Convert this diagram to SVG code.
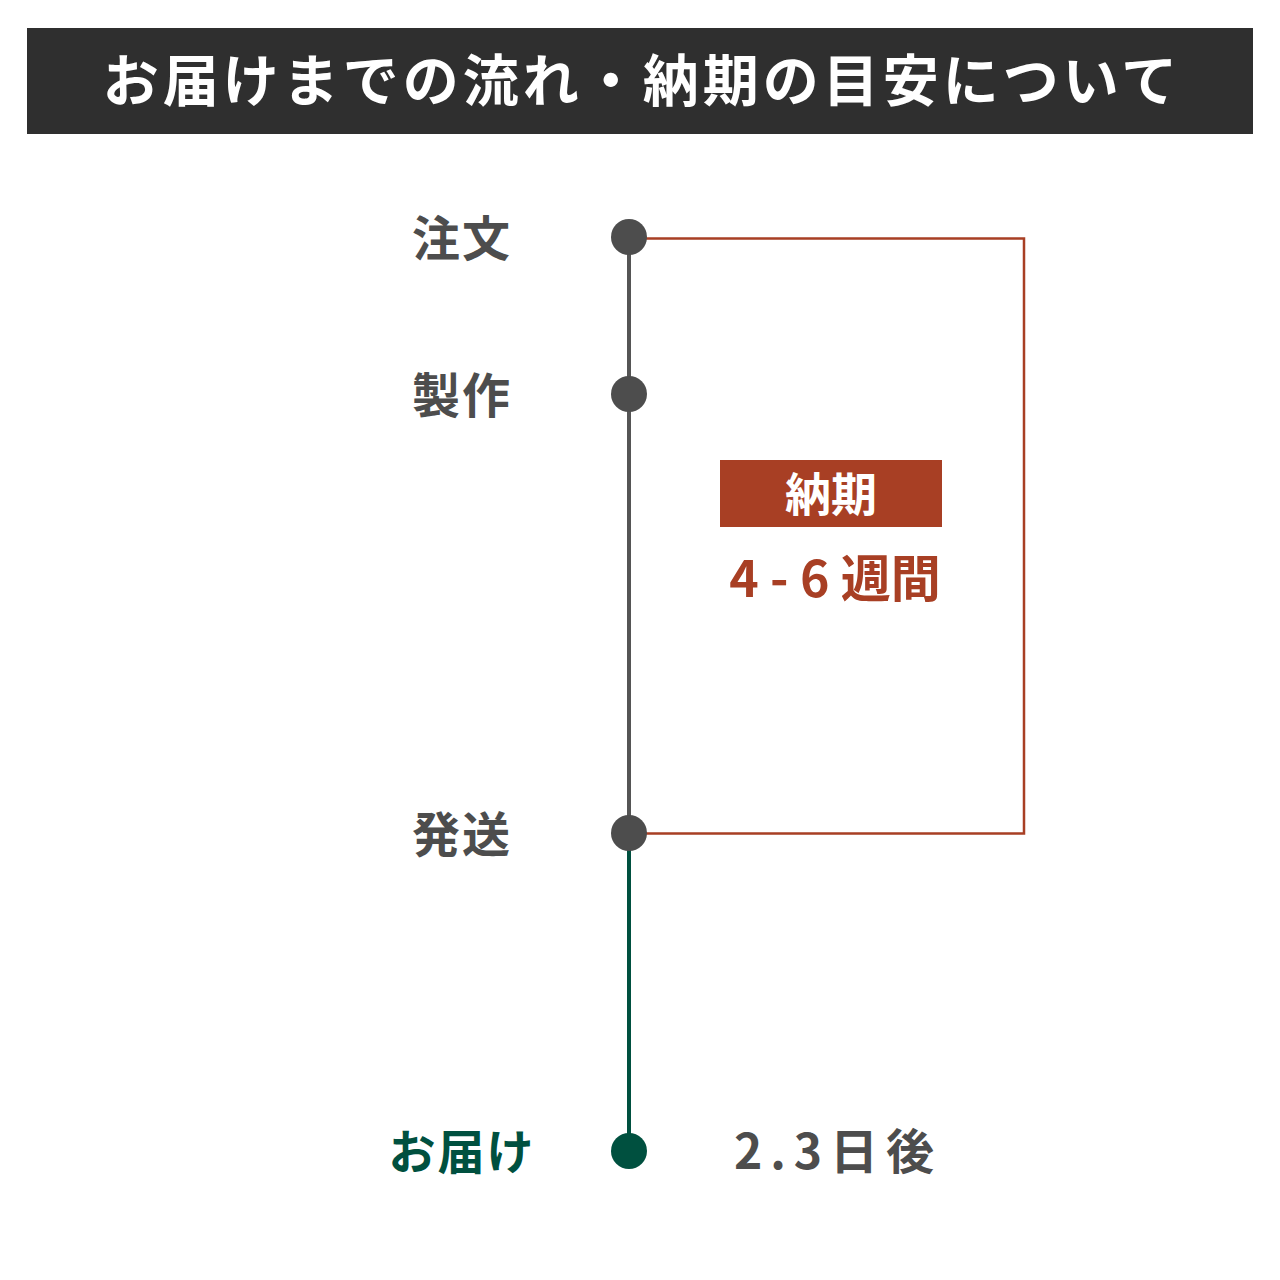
<svg xmlns="http://www.w3.org/2000/svg" width="1280" height="1280" viewBox="0 0 1280 1280">
<style>
text{font-family:"Noto Sans CJK JP","Noto Sans",sans-serif;font-weight:700}
.lbl{font-size:48px;fill:#4d4d4d;text-anchor:middle;letter-spacing:2px}
.dot{fill:#4d4d4d}
</style>
<rect width="1280" height="1280" fill="#fff"/>
<g id="title">
<rect x="27" y="28" width="1226" height="106" fill="#2f2f2f"/>
<text x="642" y="101" font-size="56" fill="#fff" text-anchor="middle" letter-spacing="4">お届けまでの流れ・納期の目安について</text>
</g>
<g id="connectors">
<line x1="629" y1="237" x2="629" y2="833" stroke="#555" stroke-width="4"/>
<line x1="629" y1="833" x2="629" y2="1150" stroke="#00503f" stroke-width="4"/>
<polyline points="645,238.5 1024,238.5 1024,833.5 645,833.5" fill="none" stroke="#a83f24" stroke-width="2.5"/>
</g>
<g id="node-order">
<circle class="dot" cx="629" cy="237" r="18"/>
<text class="lbl" x="462" y="256">注文</text>
</g>
<g id="node-make">
<circle class="dot" cx="629" cy="394" r="18"/>
<text class="lbl" x="462" y="413">製作</text>
</g>
<g id="node-ship">
<circle class="dot" cx="629" cy="833" r="18"/>
<text class="lbl" x="462" y="852">発送</text>
</g>
<g id="node-deliver">
<circle cx="629" cy="1151" r="18" fill="#00503f"/>
<text x="462" y="1169" font-size="47" fill="#00503f" text-anchor="middle" letter-spacing="2">お届け</text>
<text x="838" y="1169" font-size="48" fill="#4d4d4d" text-anchor="middle" font-weight="500" letter-spacing="8">2.3日後</text>
</g>
<g id="leadtime">
<rect x="720" y="460" width="222" height="67" fill="#a83f24"/>
<text x="831" y="511" font-size="46" fill="#fff" text-anchor="middle">納期</text>
<text x="835" y="597" font-size="50" fill="#a83f24" text-anchor="middle">4 - 6 週間</text>
</g>
</svg>
